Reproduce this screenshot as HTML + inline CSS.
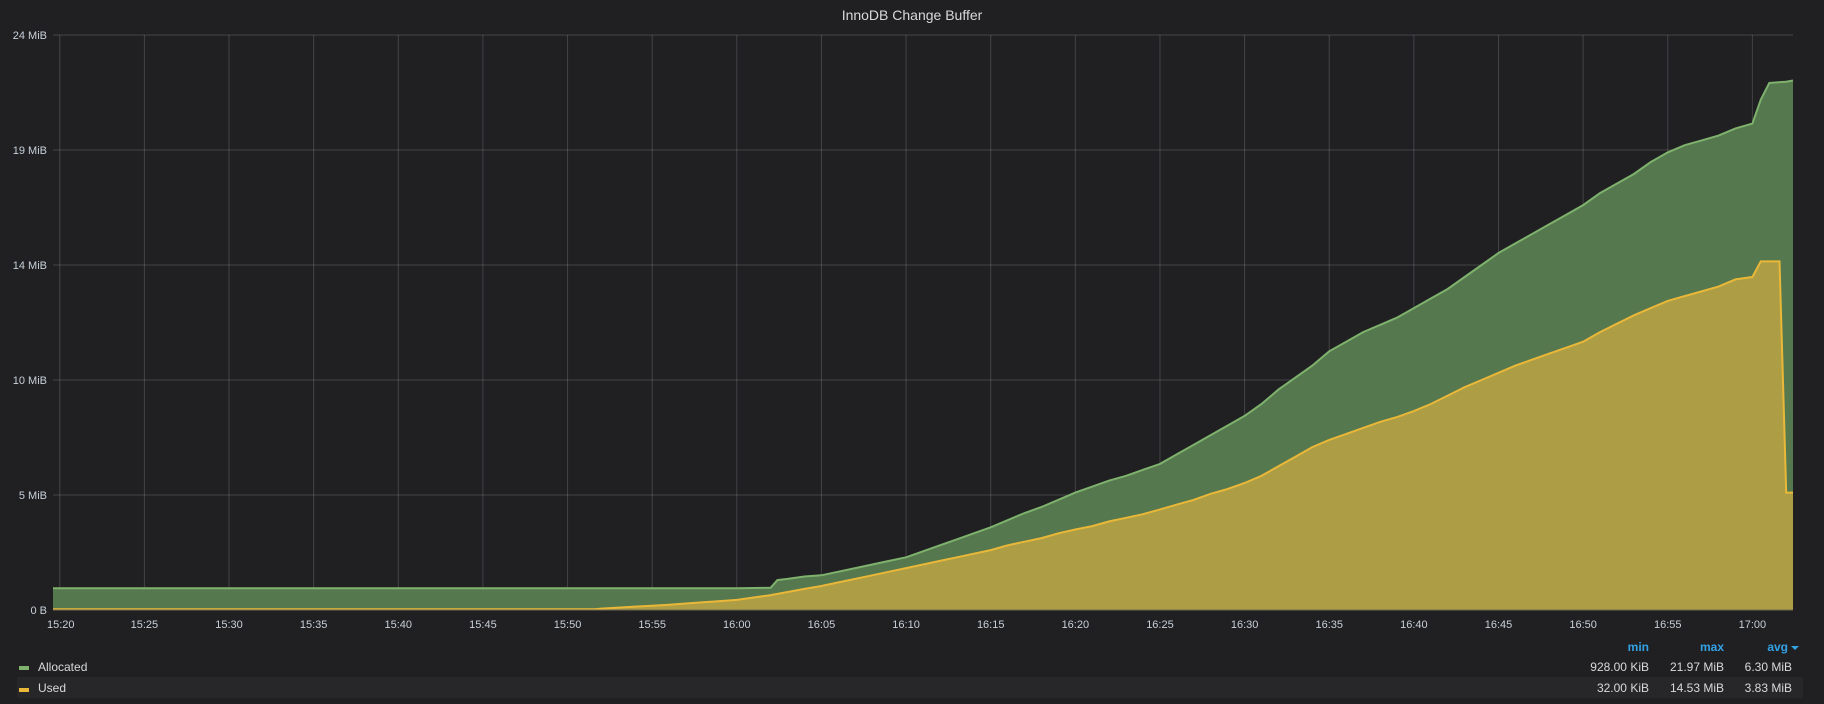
<!DOCTYPE html>
<html><head><meta charset="utf-8">
<style>
body{margin:0;background:#202023;width:1824px;height:704px;overflow:hidden;font-family:"Liberation Sans",sans-serif;}
svg{position:absolute;left:0;top:0}
</style></head>
<body>
<svg id="chart" width="1824" height="704">
<rect x="0" y="0" width="1824" height="704" fill="#202023"/>
<text x="912" y="20" text-anchor="middle" fill="#d8d9da" font-size="14">InnoDB Change Buffer</text>
<g id="grid"></g>
<g id="series"></g>
<g id="axes"></g>
<g>
<text x="1649" y="651" text-anchor="end" fill="#33a2e5" font-size="12" font-weight="bold">min</text>
<text x="1724" y="651" text-anchor="end" fill="#33a2e5" font-size="12" font-weight="bold">max</text>
<text x="1788" y="651" text-anchor="end" fill="#33a2e5" font-size="12" font-weight="bold">avg</text>
<path d="M1791 646 L1799 646 L1795 650 Z" fill="#33a2e5"/>
<g>
<rect x="19" y="666" width="10" height="4" fill="#7eb26d"/>
<text x="38" y="671" fill="#d8d9da" font-size="12">Allocated</text>
<text x="1649" y="671" text-anchor="end" fill="#d8d9da" font-size="12">928.00 KiB</text>
<text x="1724" y="671" text-anchor="end" fill="#d8d9da" font-size="12">21.97 MiB</text>
<text x="1792" y="671" text-anchor="end" fill="#d8d9da" font-size="12">6.30 MiB</text>
</g>
<rect x="17" y="677" width="1786" height="21" fill="#27272a"/>
<g>
<rect x="19" y="688" width="10" height="4" fill="#eab839"/>
<text x="38" y="692" fill="#d8d9da" font-size="12">Used</text>
<text x="1649" y="692" text-anchor="end" fill="#d8d9da" font-size="12">32.00 KiB</text>
<text x="1724" y="692" text-anchor="end" fill="#d8d9da" font-size="12">14.53 MiB</text>
<text x="1792" y="692" text-anchor="end" fill="#d8d9da" font-size="12">3.83 MiB</text>
</g>
</g>
</svg>
<script>
// minutes since 15:20
const allocTimes=[-0.4,0,10,20,30,40,41,42,42.4,43,44,45,46,47,48,49,50,51,52,53,54,55,56,57,58,59,60,61,62,63,64,65,66,67,68,69,70,71,72,73,74,75,76,77,78,79,80,81,82,83,84,85,86,87,88,89,90,91,92,93,94,95,96,97,98,99,100,100.5,101,102,102.4];
const allocValues=[0.91,0.91,0.91,0.91,0.91,0.91,0.92,0.93,1.25,1.3,1.4,1.45,1.6,1.75,1.9,2.05,2.2,2.45,2.7,2.95,3.2,3.45,3.75,4.05,4.3,4.6,4.9,5.15,5.4,5.6,5.85,6.1,6.5,6.9,7.3,7.7,8.1,8.6,9.2,9.7,10.2,10.8,11.2,11.6,11.9,12.2,12.6,13.0,13.4,13.9,14.4,14.9,15.3,15.7,16.1,16.5,16.9,17.4,17.8,18.2,18.7,19.1,19.4,19.6,19.8,20.1,20.3,21.3,22.0,22.05,22.1];
const usedTimes=[-0.4,0,10,20,30,31.6,32,33,34,35,36,37,38,39,40,41,42,43,44,45,46,47,48,49,50,51,52,53,54,55,56,57,58,59,60,61,62,63,64,65,66,67,68,69,70,71,72,73,74,75,76,77,78,79,80,81,82,83,84,85,86,87,88,89,90,91,92,93,94,95,96,97,98,99,100,100.5,101,101.6,102,102.4];
const usedValues=[0.03,0.03,0.03,0.03,0.03,0.03,0.06,0.1,0.14,0.18,0.22,0.27,0.32,0.37,0.42,0.52,0.62,0.75,0.88,1.0,1.15,1.3,1.45,1.6,1.75,1.9,2.05,2.2,2.35,2.5,2.7,2.85,3.0,3.2,3.36,3.5,3.7,3.85,4.0,4.2,4.4,4.6,4.85,5.05,5.3,5.6,6.0,6.4,6.8,7.1,7.35,7.6,7.85,8.05,8.3,8.6,8.95,9.3,9.6,9.9,10.2,10.45,10.7,10.95,11.2,11.6,11.95,12.3,12.6,12.9,13.1,13.3,13.5,13.8,13.9,14.55,14.55,14.55,4.9,4.9];
const yTicks=[0,4.8,9.6,14.4,19.2,24];
const yTickLabels=["0 B","5 MiB","10 MiB","14 MiB","19 MiB","24 MiB"];
const xTicks=[0,5,10,15,20,25,30,35,40,45,50,55,60,65,70,75,80,85,90,95,100];
const xTickLabels=["15:20","15:25","15:30","15:35","15:40","15:45","15:50","15:55","16:00","16:05","16:10","16:15","16:20","16:25","16:30","16:35","16:40","16:45","16:50","16:55","17:00"];

const X0=53,X1=1793,Y0=610,Y1=35;
const tMin=-0.4,tMax=102.4;
const xs=t=>X0+(t-tMin)/(tMax-tMin)*(X1-X0);
const ys=v=>Y0-v/24*(Y0-Y1);
const NS="http://www.w3.org/2000/svg";
const grid=document.getElementById('grid'),axes=document.getElementById('axes'),series=document.getElementById('series');
function mk(tag,attrs,parent){const e=document.createElementNS(NS,tag);for(const k in attrs)e.setAttribute(k,attrs[k]);parent.appendChild(e);return e;}
yTicks.forEach((v,i)=>{
  const l=mk('line',{x1:X0,x2:X1,y1:ys(v),y2:ys(v),stroke:'rgba(255,255,255,0.16)','stroke-width':1},grid);
  
  
  const t=mk('text',{x:47,y:ys(v)+4,'text-anchor':'end',fill:'#c7d0d9','font-size':11},axes);
  t.textContent=yTickLabels[i];
  
  
});
xTicks.forEach((m,i)=>{
  const x=xs(m);
  const l=mk('line',{x1:x,x2:x,y1:Y1,y2:Y0,stroke:'rgba(255,255,255,0.16)','stroke-width':1},grid);
  
  
  const t=mk('text',{x:i===0?x+1:x,y:628,'text-anchor':'middle',fill:'#c7d0d9','font-size':11},axes);
  t.textContent=xTickLabels[i];
  
  
});
function draw(times,vals,fill,stroke,name){
  let d='';times.forEach((t,i)=>{d+=(i?'L':'M')+xs(t).toFixed(1)+' '+ys(vals[i]).toFixed(1)+' ';});
  const area=mk('path',{d:d+'L'+xs(times[times.length-1])+' '+Y0+' L'+xs(times[0])+' '+Y0+' Z',fill:fill},series);
  
  
  const line=mk('path',{d:d,fill:'none',stroke:stroke,'stroke-width':2},series);
  
  
}
draw(allocTimes,allocValues,'#56784e','#7eb26d','allocated');
draw(usedTimes,usedValues,'#ad9d44','#eab839','used');
const base=mk('line',{x1:X0,x2:X1,y1:Y0,y2:Y0,stroke:'#6b6b50','stroke-width':1},axes);


</script>
</body></html>
